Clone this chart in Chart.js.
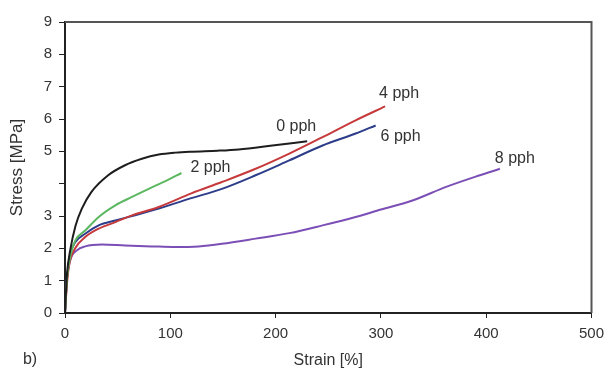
<!DOCTYPE html>
<html>
<head>
<meta charset="utf-8">
<script src="https://cdn.jsdelivr.net/npm/chart.js@4.4.0/dist/chart.umd.min.js"></script>
<style>
  body { margin: 0; background: #fff; }
  #wrap { width: 604px; height: 370px; position: relative; }
</style>
</head>
<body>
<div id="wrap"><canvas id="chart"></canvas></div>
<script>
// series names (used as line labels)
const seriesNames = ["0 pph", "2 pph", "4 pph", "6 pph", "8 pph"];

// strain [%] / stress [MPa]
const strain0 = [0, 1, 2, 5, 10, 16, 25, 41, 57, 73, 89, 105, 121, 145, 165, 197, 230];
const stress0 = [0, 0.7, 1.25, 1.95, 2.7, 3.23, 3.74, 4.26, 4.57, 4.77, 4.9, 4.96, 4.99, 5.02, 5.06, 5.18, 5.31];

const strain2 = [0, 1, 2, 5, 9.7, 19.2, 32, 47.8, 63.6, 79.5, 95.4, 110.6];
const stress2 = [0, 0.6, 1.1, 1.75, 2.24, 2.55, 2.97, 3.33, 3.59, 3.84, 4.08, 4.33];

const strain4 = [0, 1, 2, 4, 9.7, 19.2, 32, 47.8, 63.6, 89, 120, 149, 181, 213, 244.6, 276, 304];
const stress4 = [0, 0.5, 0.95, 1.5, 2.0, 2.35, 2.61, 2.81, 3.02, 3.28, 3.7, 4.05, 4.46, 4.93, 5.44, 5.96, 6.39];

const strain6 = [0, 1, 2, 5, 9.7, 19.2, 32, 47.8, 63.6, 89, 117.6, 149, 181, 213, 244.6, 276, 295];
const stress6 = [0, 0.6, 1.1, 1.8, 2.19, 2.45, 2.71, 2.86, 3.0, 3.23, 3.53, 3.84, 4.26, 4.72, 5.18, 5.55, 5.8];

const strain8 = [0, 1.7, 5, 11, 19.2, 35, 57, 82.7, 105, 127, 149, 181, 213, 244.6, 276, 300, 330, 362, 394, 413];
const stress8 = [0, 1.0, 1.63, 1.93, 2.06, 2.12, 2.09, 2.06, 2.04, 2.06, 2.14, 2.3, 2.47, 2.71, 2.97, 3.2, 3.48, 3.9, 4.26, 4.46];

const xTicks = [0, 100, 200, 300, 400, 500];
const yTicks = [0, 1, 2, 3, 4, 5, 6, 7, 8, 9];
const yHidden = [4]; // the "4" label is missing in the original

const colors = ["#1e1e1e", "#5cb860", "#c63a3c", "#2d3d8a", "#7b4fb6"];
// pixel offset of each name from the end of its curve
const nameOffsets = [[-11, -15], [29, -5], [14, -13], [25, 11], [15, -10]];

const toPoints = (xs, ys) => xs.map((x, i) => ({ x: x, y: ys[i] }));
const seriesX = [strain0, strain2, strain4, strain6, strain8];
const seriesY = [stress0, stress2, stress4, stress6, stress8];

const datasets = seriesNames.map((name, i) => ({
    label: name,
    data: toPoints(seriesX[i], seriesY[i]),
    borderColor: colors[i],
    borderWidth: 2,
    pointRadius: 0,
    fill: false,
    cubicInterpolationMode: "monotone",
}));

const font = '"Liberation Sans", Arial, sans-serif';

// grey frame on top and right
const framePlugin = {
    id: "frame",
    beforeDatasetsDraw(chart) {
        const { ctx, chartArea: a } = chart;
        ctx.save();
        ctx.strokeStyle = "#555";
        ctx.lineWidth = 2;
        ctx.beginPath();
        ctx.moveTo(a.left, a.top);
        ctx.lineTo(a.right, a.top);
        ctx.lineTo(a.right, a.bottom);
        ctx.stroke();
        ctx.restore();
    },
};

// curve names + "b)"
const namesPlugin = {
    id: "names",
    afterDatasetsDraw(chart) {
        const ctx = chart.ctx;
        ctx.save();
        ctx.fillStyle = "#333";
        ctx.font = "16px " + font;
        ctx.textAlign = "center";
        ctx.textBaseline = "middle";
        seriesNames.forEach((name, i) => {
            const pts = chart.getDatasetMeta(i).data;
            const last = pts[pts.length - 1];
            ctx.fillText(name, last.x + nameOffsets[i][0], last.y + nameOffsets[i][1]);
        });
        ctx.fillText("b)", 30, 360);
        ctx.restore();
    },
};

new Chart(document.getElementById("chart"), {
    type: "line",
    data: { datasets: datasets },
    plugins: [framePlugin, namesPlugin],
    options: {
        responsive: true,
        maintainAspectRatio: false,
        animation: false,
        layout: { padding: { top: 22, right: 0, left: 0, bottom: 0 } },
        plugins: { legend: { display: false }, tooltip: { enabled: false } },
        scales: {
            x: {
                type: "linear",
                min: 0,
                max: 500,
                afterFit: (s) => { s.height = 57; s.paddingRight = 12.5; },
                afterBuildTicks: (s) => { s.ticks = xTicks.map((v) => ({ value: v })); },
                ticks: { color: "#333", font: { family: font, size: 15 }, padding: 7 },
                grid: { drawOnChartArea: false, tickLength: 5, color: "#222" },
                border: { color: "#222", width: 2 },
                title: {
                    display: true,
                    text: "Strain [%]",
                    color: "#333",
                    font: { family: font, size: 16 },
                    padding: { top: 3, bottom: 0 },
                },
            },
            y: {
                type: "linear",
                min: 0,
                max: 9,
                afterFit: (s) => { s.width = 65; },
                afterBuildTicks: (s) => { s.ticks = yTicks.map((v) => ({ value: v })); },
                ticks: {
                    color: "#333",
                    font: { family: font, size: 15 },
                    padding: 7,
                    callback: (v) => (yHidden.includes(v) ? "" : v),
                },
                grid: { drawOnChartArea: false, tickLength: 6, color: "#222" },
                border: { color: "#222", width: 2 },
                title: {
                    display: true,
                    text: "Stress [MPa]",
                    color: "#333",
                    font: { family: font, size: 17 },
                    padding: { top: 7, bottom: 0 },
                },
            },
        },
    },
});
</script>
</body>
</html>
